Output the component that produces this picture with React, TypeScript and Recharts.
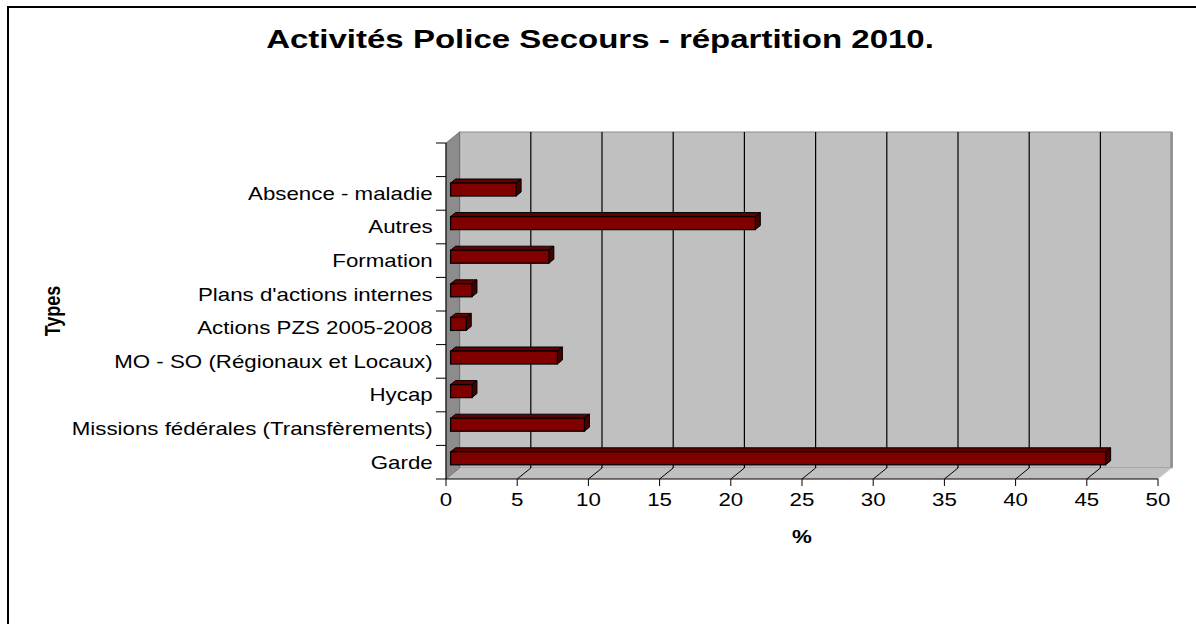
import React from 'react';
import { BarChart, Bar, XAxis, YAxis, CartesianGrid } from 'recharts';

// ---- data ----
const categories: string[] = [
  '',
  'Absence - maladie',
  'Autres',
  'Formation',
  "Plans d'actions internes",
  'Actions PZS 2005-2008',
  'MO - SO (Régionaux et Locaux)',
  'Hycap',
  'Missions fédérales (Transfèrements)',
  'Garde',
];
const values: (number | null)[] = [null, 4.6, 21.4, 6.9, 1.5, 1.1, 7.5, 1.5, 9.4, 46.0];
const xTicks: number[] = [0, 5, 10, 15, 20, 25, 30, 35, 40, 45, 50];
const chartTitle = 'Activités Police Secours - répartition 2010.';
const xTitle = '%';
const yTitle = 'Types';

const data = categories.map((name, i) => ({ name, value: values[i] }));

// ---- layout ----
const W = 1196;
const H = 624;
const PLOT_LEFT = 446;
const PLOT_RIGHT = 1158;
const PLOT_TOP = 143;
const PLOT_BOTTOM = 479;
const DEPTH_X = 13.6;
const DEPTH_Y = -11;
const BAR_DX = 4.6;
const BAR_DY = -3.6;
const BAR_DEPTH_X = 5;
const BAR_DEPTH_Y = -4;
const SX = 1.26;
const FONT = '"Liberation Sans", Arial, sans-serif';
const LABEL_SIZE = 17.7;

const renderGridLine = (props: any) => {
  const { x1, y1, y2, index } = props;
  const atLeft = Math.abs(x1 - PLOT_LEFT) < 1;
  const atRight = Math.abs(x1 - PLOT_RIGHT) < 1;
  return (
    <g key={`grid-${index}`}>
      {!atLeft && !atRight && (
        <line x1={x1 + DEPTH_X} y1={y1 + DEPTH_Y} x2={x1 + DEPTH_X} y2={y2 + DEPTH_Y} stroke="#000" strokeWidth={1.2} />
      )}
      {!atLeft && (
        <line x1={x1} y1={y2} x2={x1 + DEPTH_X} y2={y2 + DEPTH_Y} stroke={atRight ? '#dcdcdc' : '#000'} strokeWidth={1} />
      )}
    </g>
  );
};

const renderXTick = (props: any) => {
  const { x, payload } = props;
  return (
    <text
      transform={`translate(${x},${PLOT_BOTTOM + 27}) scale(${SX},1)`}
      textAnchor="middle"
      fontFamily={FONT}
      fontSize={LABEL_SIZE}
      fill="#000"
    >
      {payload.value}
    </text>
  );
};

const renderYTick = (props: any) => {
  const { y, payload, index } = props;
  const band = (PLOT_BOTTOM - PLOT_TOP) / categories.length;
  const isLast = index === categories.length - 1;
  return (
    <g>
      <line x1={PLOT_LEFT - 10} x2={PLOT_LEFT} y1={y - band / 2} y2={y - band / 2} stroke="#000" strokeWidth={1} />
      {isLast && <line x1={PLOT_LEFT - 10} x2={PLOT_LEFT} y1={y + band / 2} y2={y + band / 2} stroke="#000" strokeWidth={1} />}
      <text
        transform={`translate(${PLOT_LEFT - 13.3},${y + 6.3}) scale(${SX},1)`}
        textAnchor="end"
        fontFamily={FONT}
        fontSize={LABEL_SIZE}
        fill="#000"
      >
        {payload.value}
      </text>
    </g>
  );
};

const render3DBar = (props: any) => {
  const { x, y, width, height } = props;
  if (width == null || !height || !(width > 0)) return <g />;
  const fx = x + BAR_DX;
  const fy = y + BAR_DY;
  const top = [
    [fx, fy],
    [fx + BAR_DEPTH_X, fy + BAR_DEPTH_Y],
    [fx + width + BAR_DEPTH_X, fy + BAR_DEPTH_Y],
    [fx + width, fy],
  ]
    .map((p) => p.join(','))
    .join(' ');
  const side = [
    [fx + width, fy],
    [fx + width + BAR_DEPTH_X, fy + BAR_DEPTH_Y],
    [fx + width + BAR_DEPTH_X, fy + height + BAR_DEPTH_Y],
    [fx + width, fy + height],
  ]
    .map((p) => p.join(','))
    .join(' ');
  return (
    <g>
      <polygon points={top} fill="#640000" stroke="#000" strokeWidth={1} strokeLinejoin="round" />
      <polygon points={side} fill="#460000" stroke="#000" strokeWidth={1} strokeLinejoin="round" />
      <rect x={fx} y={fy} width={width} height={height} fill="#800000" stroke="#000" strokeWidth={1.3} />
    </g>
  );
};

const Underlay = () => {
  const bx = PLOT_LEFT + DEPTH_X;
  const by = PLOT_TOP + DEPTH_Y;
  const pw = PLOT_RIGHT - PLOT_LEFT;
  const ph = PLOT_BOTTOM - PLOT_TOP;
  const floor = `${PLOT_LEFT},${PLOT_BOTTOM} ${PLOT_RIGHT},${PLOT_BOTTOM} ${PLOT_RIGHT + DEPTH_X},${PLOT_BOTTOM + DEPTH_Y} ${bx},${PLOT_BOTTOM + DEPTH_Y}`;
  const side = `${PLOT_LEFT},${PLOT_BOTTOM} ${PLOT_LEFT},${PLOT_TOP} ${bx},${by} ${bx},${PLOT_BOTTOM + DEPTH_Y}`;
  return (
    <svg width={W} height={H} style={{ position: 'absolute', left: 0, top: 0 }}>
      <rect x={0} y={0} width={W} height={H} fill="#fff" />
      <path d={`M8,${H + 2} L8,7 L${W + 2},7`} fill="none" stroke="#000" strokeWidth={2} />
      <text
        transform={`translate(${W / 2 + 2},48) scale(${SX},1)`}
        textAnchor="middle"
        fontFamily={FONT}
        fontWeight="bold"
        fontSize={26.2}
        fill="#000"
      >
        {chartTitle}
      </text>
      <rect x={bx} y={by} width={pw} height={ph} fill="#c0c0c0" stroke="#8c8c8c" strokeWidth={1} />
      <line x1={bx + pw} y1={by} x2={bx + pw} y2={by + ph} stroke="#8c8c8c" strokeWidth={2.5} />
      <polygon points={floor} fill="#c0c0c0" stroke="none" />
      <polygon points={side} fill="#8c8c8c" stroke="#666" strokeWidth={0.8} />
      <text
        transform={`translate(${(PLOT_LEFT + PLOT_RIGHT) / 2},543) scale(${SX},1)`}
        textAnchor="middle"
        fontFamily={FONT}
        fontWeight="bold"
        fontSize={LABEL_SIZE}
        fill="#000"
      >
        {xTitle}
      </text>
      <text
        transform={`translate(60,${(PLOT_TOP + PLOT_BOTTOM) / 2}) scale(${SX},1) rotate(-90)`}
        textAnchor="middle"
        fontFamily={FONT}
        fontWeight="bold"
        fontSize={18}
        fill="#000"
      >
        {yTitle}
      </text>
    </svg>
  );
};

export default function App() {
  return (
    <div style={{ position: 'absolute', left: 0, top: 0, width: W, height: H }}>
      <Underlay />
      <div style={{ position: 'absolute', left: 0, top: 0 }}>
        <BarChart
          width={W}
          height={H}
          data={data}
          layout="vertical"
          margin={{ top: PLOT_TOP, right: W - PLOT_RIGHT, bottom: 0, left: 0 }}
          barSize={13}
        >
          <CartesianGrid horizontal={false} vertical={renderGridLine} />
          <XAxis
            type="number"
            domain={[0, 50]}
            ticks={xTicks}
            interval={0}
            height={H - PLOT_BOTTOM}
            tick={renderXTick}
            tickSize={7}
            tickLine={{ stroke: '#000', strokeWidth: 1 }}
            axisLine={{ stroke: '#000', strokeWidth: 1 }}
          />
          <YAxis
            type="category"
            dataKey="name"
            width={PLOT_LEFT}
            interval={0}
            tick={renderYTick}
            tickLine={false}
            axisLine={{ stroke: '#000', strokeWidth: 1 }}
          />
          <Bar dataKey="value" isAnimationActive={false} shape={render3DBar} />
        </BarChart>
      </div>
    </div>
  );
}
